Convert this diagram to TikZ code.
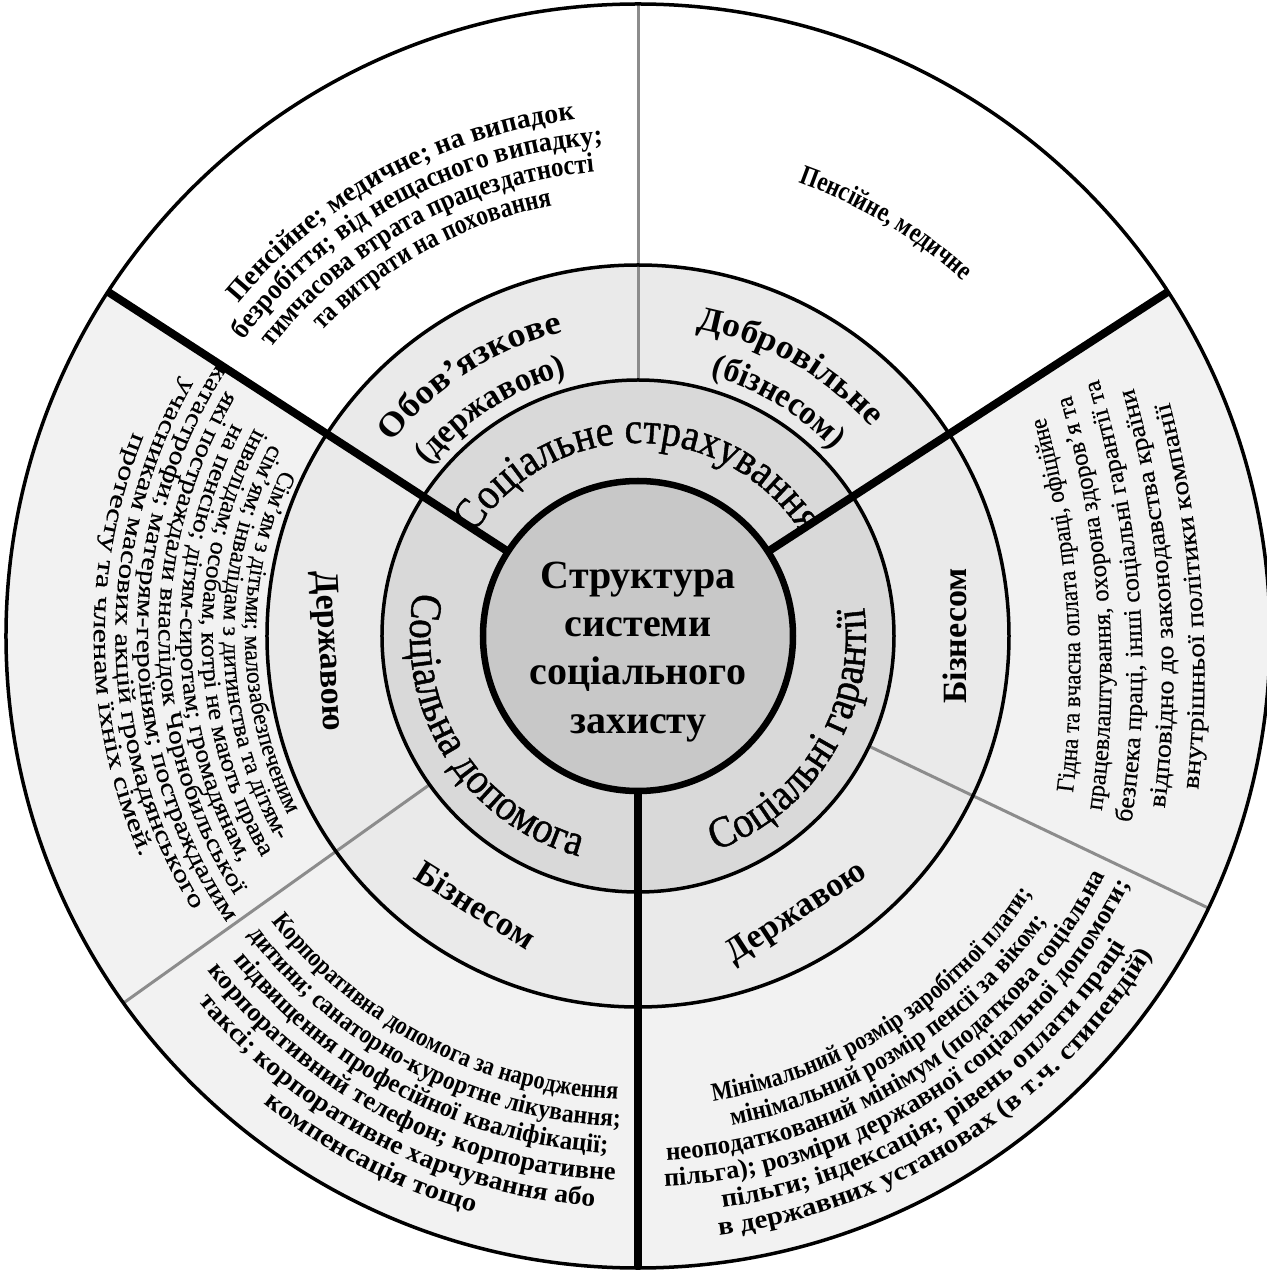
\documentclass[tikz,border=0pt]{standalone}
\usepackage{fontspec}
\setmainfont{Liberation Serif}
\newfontfamily\SerifFam{Liberation Serif}
\usetikzlibrary{decorations.text}
\definecolor{cCenter}{HTML}{C8C8C8}
\definecolor{cRingTwo}{HTML}{D9D9D9}
\definecolor{cRingThree}{HTML}{EAEAEA}
\definecolor{cOuter}{HTML}{F2F2F2}
\definecolor{cGrayLine}{HTML}{8C8C8C}
\def\CbD{0}% offset of the curvature centre (opposite to the mid angle)
\def\ExtraFeat{}% extra font features
% #1 +1 clockwise / -1 counter-clockwise, #2 mid angle, #3 baseline radius,
% #4 series, #5 size, #6 horizontal stretch, #7 text
\newcommand\ArcLine[7]{%
  \pgfmathsetmacro\aA{#2+(#1)*85}%
  \pgfmathsetmacro\aB{#2-(#1)*85}%
  \pgfmathsetmacro\kS{#6}%
  \pgfmathsetmacro\rR{#3+\CbD}%
  \edef\ArcFmt{\noexpand\SerifFam\unexpanded{#4}\noexpand\fontsize{#5}{#5}\noexpand\selectfont\noexpand\addfontfeature{FakeStretch=\kS\ExtraFeat}}%
  \path[shift={(#2+180:\CbD)},decorate,decoration={text along path,text align=center,text={|\ArcFmt|#7}}]
    (\aA:\rR) arc[start angle=\aA,end angle=\aB,radius=\rR];%
}
\begin{document}
\begin{tikzpicture}[x=1pt,y=1pt,line join=round,
  ring/.style={draw=black,line width=3.5pt},
  divider/.style={draw=black,line width=8pt},
  thinsep/.style={draw=cGrayLine,line width=3pt},
  centertext/.style={font=\bfseries\fontsize{40}{48}\selectfont,anchor=base,inner sep=0pt},
  ringlabel/.style={font=\bfseries\fontsize{34}{34}\selectfont,inner sep=0pt}]
\useasboundingbox (-638,-635) rectangle (628,636);
\def\rA{155}\def\rB{256}\def\rC{371}\def\rD{632}
% fills
\fill[cOuter] (0,0) circle[radius=\rD];
\fill[white] (33:\rC) arc[start angle=33,end angle=147,radius=\rC] -- (147:\rD) arc[start angle=147,end angle=33,radius=\rD] -- cycle;
\fill[cRingThree] (0,0) circle[radius=\rC];
\fill[cRingTwo] (0,0) circle[radius=\rB];
% thin grey separators
\draw[thinsep] (90:\rB) -- (90:\rD);
\draw[thinsep] (-25.5:\rB) -- (-25.5:\rD);
\draw[thinsep] (215.5:\rB) -- (215.5:\rD);
% rings
\draw[ring] (0,0) circle[radius=\rB];
\draw[ring] (0,0) circle[radius=\rC];
\draw[ring] (0,0) circle[radius=\rD];
% thick dividers
\draw[divider] (33:\rA) -- (33:\rD);
\draw[divider] (147:\rA) -- (147:\rD);
\draw[divider] (270:\rA) -- (270:\rD);
% centre
\fill[cCenter] (0,0) circle[radius=\rA];
\draw[black,line width=6.5pt] (0,0) circle[radius=\rA];
\node[centertext] (t1) at (0,47) {Структура};
\node[centertext] (t2) at (0,-1) {системи};
\node[centertext] (t3) at (0,-49) {соціального};
\node[centertext] (t4) at (0,-97) {захисту};
% ring 2 labels
\def\ExtraFeat{,FakeBold=1}
\ArcLine{1}{90}{193}{\mdseries}{44}{0.9}{Соціальне страхування}
\ArcLine{-1}{212}{228}{\mdseries}{44}{0.9}{Соціальна допомога}
\ArcLine{-1}{-31.5}{228}{\mdseries}{44}{0.9}{Соціальні гарантії}
\def\ExtraFeat{}
% ring 3 labels
\ArcLine{1}{122.8}{313}{\bfseries}{34}{1.08}{Обов’язкове}
\ArcLine{1}{123}{270}{\bfseries}{34}{0.95}{(державою)}
\ArcLine{1}{60.5}{313}{\bfseries}{34}{1.06}{Добровільне}
\ArcLine{1}{59}{270}{\bfseries}{34}{0.95}{(бізнесом)}
\node[ringlabel,rotate=-87] (dl) at (182.8:311) {Державою};
\node[ringlabel,rotate=90] (br) at (0:317) {Бізнесом};
\node[ringlabel,rotate=-32] (bb) at (238.9:314) {Бізнесом};
\node[ringlabel,rotate=33] (db) at (299.8:320) {Державою};
% top-left block
\ArcLine{1}{118.6}{520}{\bfseries}{28}{0.99}{Пенсійне; медичне; на випадок}
\ArcLine{1}{118.6}{493}{\bfseries}{28}{0.99*493/520}{безробіття; від нещасного випадку;}
\ArcLine{1}{118.6}{466}{\bfseries}{28}{0.99*466/520}{тимчасова втрата працездатності}
\ArcLine{1}{118.6}{439}{\bfseries}{28}{0.99*439/520}{та витрати на поховання}
% top-right block
\ArcLine{1}{59}{481}{\bfseries}{28}{0.82}{Пенсійне, медичне}
% right block (flatter curvature)
\def\ExtraFeat{,FakeBold=0.5}
\def\CbD{500}
\ArcLine{-1}{4.2}{441}{\mdseries}{25}{0.92}{Гідна та вчасна оплата праці, офіційне}
\ArcLine{-1}{4.2}{472}{\mdseries}{25}{0.92*472/441}{працевлаштування, охорона здоров’я та}
\ArcLine{-1}{4.2}{503}{\mdseries}{25}{0.92*503/441}{безпека праці, інші соціальні гарантії та}
\ArcLine{-1}{4.2}{534}{\mdseries}{25}{0.92*534/441}{відповідно до законодавства країни}
\ArcLine{-1}{4.2}{565}{\mdseries}{25}{0.92*565/441}{внутрішньої політики компанії}
\def\CbD{0}
% left block
\ArcLine{-1}{181}{393}{\mdseries}{24}{0.98}{Сім’ям з дітьми; малозабезпеченим}
\ArcLine{-1}{181}{414.6}{\mdseries}{24}{0.98*414.6/393}{сім’ям; інвалідам з дитинства та дітям-}
\ArcLine{-1}{181}{436.2}{\mdseries}{24}{0.98*436.2/393}{інвалідам; особам, котрі не мають права}
\ArcLine{-1}{181}{457.8}{\mdseries}{24}{0.98*457.8/393}{на пенсію; дітям-сиротам; громадянам,}
\ArcLine{-1}{181}{479.4}{\mdseries}{24}{0.98*479.4/393}{які постраждали внаслідок Чорнобильської}
\ArcLine{-1}{181}{501}{\mdseries}{24}{0.98*501/393}{катастрофи; матерям-героїням; постраждалим}
\ArcLine{-1}{181}{522.6}{\mdseries}{24}{0.98*522.6/393}{учасникам масових акцій громадянського}
\ArcLine{-1}{181}{544.2}{\mdseries}{24}{0.98*544.2/393}{протесту та членам їхніх сімей.}
\def\ExtraFeat{}
% bottom-left block
\ArcLine{-1}{242.7}{464}{\bfseries}{26}{0.86}{Корпоративна допомога за народження}
\ArcLine{-1}{242.7}{491}{\bfseries}{26}{0.86*491/464}{дитини; санаторно-курортне лікування;}
\ArcLine{-1}{242.7}{518}{\bfseries}{26}{0.86*518/464}{підвищення професійної кваліфікації;}
\ArcLine{-1}{242.7}{545}{\bfseries}{26}{0.86*545/464}{корпоративний телефон; корпоративне}
\ArcLine{-1}{242.7}{572}{\bfseries}{26}{0.86*572/464}{таксі; корпоративне харчування або}
\ArcLine{-1}{242.7}{599}{\bfseries}{26}{0.86*599/464}{компенсація тощо}
% bottom-right block
\ArcLine{-1}{303}{471}{\bfseries}{26}{0.865}{Мінімальний розмір заробітної плати;}
\ArcLine{-1}{303}{498}{\bfseries}{26}{0.865*498/471}{мінімальний розмір пенсії за віком;}
\ArcLine{-1}{303}{525}{\bfseries}{26}{0.865*525/471}{неоподаткований мінімум (податкова соціальна}
\ArcLine{-1}{303}{551}{\bfseries}{26}{0.865*551/471}{пільга); розміри державної соціальної допомоги;}
\ArcLine{-1}{303}{578}{\bfseries}{26}{0.865*578/471}{пільги; індексація; рівень оплати праці}
\ArcLine{-1}{303}{605}{\bfseries}{26}{0.865*605/471}{в державних установах (в т.ч. стипендій)}
\end{tikzpicture}
\end{document}
